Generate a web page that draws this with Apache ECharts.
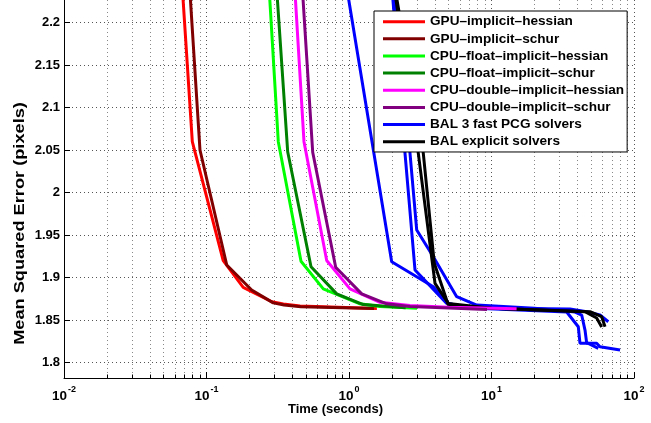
<!DOCTYPE html>
<html><head><meta charset="utf-8">
<script src="https://cdn.jsdelivr.net/npm/echarts@6/dist/echarts.min.js"></script>
<style>html,body{margin:0;padding:0;background:#fff}#c{width:651px;height:423px}</style>
</head><body><div id="c"></div>
<script>
// Time (seconds) vs Mean Squared Error (pixels)
const gpuImplicitHessian = [[0.0671,2.25],[0.0795,2.0598],[0.131,1.9198],[0.181,1.8885],[0.287,1.8715],[0.346,1.8688],[0.453,1.8665],[1.57,1.8635]];
const gpuImplicitSchur = [[0.0756,2.25],[0.0900,2.05],[0.1387,1.9147],[0.2075,1.8853],[0.294,1.8702],[0.35,1.8676],[0.46,1.8655],[1.5,1.8635]];
const cpuFloatHessian = [[0.2729,2.25],[0.319,2.0598],[0.4604,1.9192],[0.660,1.8867],[1.195,1.8691],[1.65,1.8659],[3.0,1.864]];
const cpuFloatSchur = [[0.3078,2.25],[0.3713,2.048],[0.5413,1.9127],[0.820,1.8808],[1.26,1.8682],[2.5,1.8645]];
const cpuDoubleHessian = [[0.4131,2.25],[0.4832,2.0598],[0.6975,1.92],[1.016,1.8867],[1.65,1.8709],[2.68,1.8671],[5.0,1.865],[15.0,1.8632]];
const cpuDoubleSchur = [[0.4666,2.25],[0.5563,2.0474],[0.8066,1.9121],[1.228,1.8808],[1.839,1.8691],[2.68,1.8659],[9.3,1.8624]];
const balPcg1 = [[0.945,2.25],[1.993,1.9186],[3.905,1.8892],[4.976,1.8696],[7.066,1.8641],[35.56,1.8629],[46.58,1.8598],[57.7,1.8559],[66.0,1.848]];
const balPcg2 = [[1.983,2.25],[2.472,2.0461],[2.906,1.9088],[4.850,1.8696],[7.87,1.864],[33.7,1.8594],[40.65,1.8421],[41.79,1.8226],[47.8,1.8226],[56.17,1.8167]];
const balPcg3 = [[2.036,2.25],[2.680,2.0461],[2.987,1.9559],[3.905,1.9245],[5.699,1.8774],[7.873,1.8676],[20,1.864],[38.55,1.8594],[42.95,1.8559],[45.31,1.8382],[46.58,1.8226],[54.7,1.8226],[57.7,1.8186],[79.8,1.8147]];
const balExplicit1 = [[2.04,2.25],[3.065,2.0461],[4.013,1.8932],[4.976,1.8696],[10,1.864],[49.13,1.8598],[59.33,1.8539],[62.6,1.8421]];
const balExplicit2 = [[2.055,2.25],[3.322,2.0461],[3.968,1.9167],[4.976,1.8676],[10,1.864],[45.31,1.8598],[54.7,1.8524],[59.33,1.8418]];

const yTicks = [1.8,1.85,1.9,1.95,2,2.05,2.1,2.15,2.2];
const xMajorTicks = [0.01,0.1,1,10,100];
const xMinorTicks = [0.02,0.03,0.04,0.05,0.06,0.07,0.08,0.09,0.2,0.3,0.4,0.5,0.6,0.7,0.8,0.9,2,3,4,5,6,7,8,9,20,30,40,50,60,70,80,90];
const legendNames = ['GPU–implicit–hessian','GPU–implicit–schur','CPU–float–implicit–hessian','CPU–float–implicit–schur','CPU–double–implicit–hessian','CPU–double–implicit–schur','BAL 3 fast PCG solvers','BAL explicit solvers'];
const colors = {'GPU–implicit–hessian':'#ff0000','GPU–implicit–schur':'#800000','CPU–float–implicit–hessian':'#00ff00','CPU–float–implicit–schur':'#008000','CPU–double–implicit–hessian':'#ff00ff','CPU–double–implicit–schur':'#800080','BAL 3 fast PCG solvers':'#0000ff','BAL explicit solvers':'#000000'};

const FONT = '"Liberation Sans", Arial, Helvetica, sans-serif';
function mk(name, data){
  return {type:'line', name, data, xAxisIndex:0, yAxisIndex:0, symbol:'none', showSymbol:false, clip:true,
    lineStyle:{width:3, color:colors[name]}, itemStyle:{color:colors[name]}, emphasis:{disabled:true}};
}
const series = [
  mk('BAL 3 fast PCG solvers', balPcg1),
  mk('BAL 3 fast PCG solvers', balPcg2),
  mk('BAL 3 fast PCG solvers', balPcg3),
  mk('BAL explicit solvers', balExplicit1),
  mk('BAL explicit solvers', balExplicit2),
  mk('GPU–implicit–hessian', gpuImplicitHessian),
  mk('GPU–implicit–schur', gpuImplicitSchur),
  mk('CPU–float–implicit–hessian', cpuFloatHessian),
  mk('CPU–float–implicit–schur', cpuFloatSchur),
  mk('CPU–double–implicit–hessian', cpuDoubleHessian),
  mk('CPU–double–implicit–schur', cpuDoubleSchur)
];

const chart = echarts.init(document.getElementById('c'), null, {renderer:'canvas'});
chart.setOption({
  animation:false,
  backgroundColor:'#fff',
  grid:{left:64, right:17, top:0, bottom:45, containLabel:false},
  xAxis:[{
    type:'log', logBase:10, min:0.01, max:100, position:'bottom',
    axisLine:{show:true, lineStyle:{color:'#000', width:1}},
    axisTick:{show:true, inside:true, length:6, customValues:xMajorTicks, lineStyle:{color:'#000'}},
    axisLabel:{show:true, margin:7, customValues:xMajorTicks, hideOverlap:false,
      formatter:function(v){ const e = Math.round(Math.log10(v)); return '{b|10}{e|' + e + '}'; },
      rich:{b:{fontFamily:FONT, fontWeight:'bold', fontSize:13.5, color:'#000', lineHeight:18, verticalAlign:'bottom'},
            e:{fontFamily:FONT, fontWeight:'bold', fontSize:9, color:'#000', lineHeight:18, verticalAlign:'top', padding:[0,0,6,1]}}},
    splitLine:{show:true, lineStyle:{color:'#555', width:1, type:[1,3]}},
    minorTick:{show:false}
  },{
    type:'log', logBase:10, min:0.01, max:100, position:'bottom',
    axisLine:{show:false},
    axisTick:{show:true, inside:true, length:3.5, customValues:xMinorTicks, lineStyle:{color:'#000'}},
    axisLabel:{show:false},
    splitLine:{show:true, lineStyle:{color:'#888', width:1, type:[1,3]}}
  }],
  yAxis:{
    type:'value', min:1.7818, max:2.2265,
    axisLine:{show:true, lineStyle:{color:'#000', width:1}},
    axisTick:{show:true, inside:true, length:6, customValues:yTicks, lineStyle:{color:'#000'}},
    axisLabel:{show:true, margin:4, customValues:yTicks, fontFamily:FONT, fontWeight:'bold', fontSize:13, color:'#000',
      formatter:function(v){ return String(+(+v).toFixed(2)); }},
    splitLine:{show:true, lineStyle:{color:'#555', width:1, type:[1,3]}}
  },
  legend:{
    show:true, orient:'vertical', left:374, top:11,
    data:legendNames.map(function(n){ return {name:n, icon:'path://M0,0H42V3H0Z'}; }),
    itemWidth:42, itemHeight:14, itemGap:3.14,
    padding:[3.7, 3, 3.3, 9],
    backgroundColor:'#fff', borderColor:'#000', borderWidth:1,
    textStyle:{fontFamily:FONT, fontWeight:'bold', fontSize:13.6, color:'#000'},
    selectedMode:false
  },
  graphic:[
    {type:'text', x:20, y:223.5, rotation:Math.PI/2, scaleX:1.3, scaleY:1,
      style:{text:'Mean Squared Error (pixels)', fontFamily:FONT, fontWeight:'bold', fontSize:14, fill:'#000', align:'center', verticalAlign:'middle'}},
    {type:'text', x:335.5, y:409, style:{text:'Time (seconds)', fontFamily:FONT, fontWeight:'bold', fontSize:13, fill:'#000', align:'center', verticalAlign:'middle'}}
  ],
  series:series
});
</script></body></html>
